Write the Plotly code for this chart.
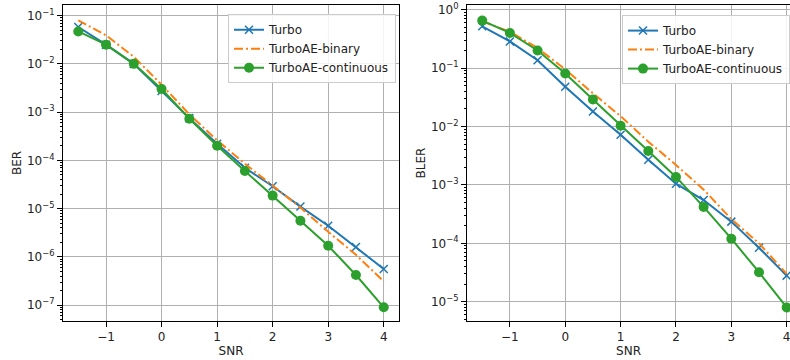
import plotly.graph_objects as go

snr = [-1.5, -1, -0.5, 0, 0.5, 1, 1.5, 2, 2.5, 3, 3.5, 4]

ber_turbo = [0.058, 0.025, 0.0100, 0.00275, 7.5e-4, 2.2e-4, 7.0e-5, 2.9e-5, 1.1e-5, 4.4e-6, 1.6e-6, 5.6e-7]
ber_binary = [0.080, 0.039, 0.0140, 0.0037, 9.0e-4, 2.6e-4, 8.5e-5, 3.0e-5, 1.05e-5, 3.3e-6, 1.1e-6, 3.1e-7]
ber_cont = [0.047, 0.025, 0.0100, 0.0030, 7.3e-4, 2.0e-4, 6.0e-5, 1.86e-5, 5.6e-6, 1.7e-6, 4.2e-7, 9.0e-8]

bler_turbo = [0.52, 0.286, 0.136, 0.048, 0.018, 0.0072, 0.0027, 0.00105, 5.5e-4, 2.35e-4, 8.4e-5, 2.8e-5]
bler_binary = [0.63, 0.42, 0.22, 0.095, 0.037, 0.015, 0.0055, 0.0022, 8.3e-4, 2.6e-4, 1.0e-4, 3.0e-5]
bler_cont = [0.65, 0.40, 0.20, 0.081, 0.029, 0.0103, 0.0038, 0.00137, 4.2e-4, 1.2e-4, 3.2e-5, 8.0e-6]

names = ["Turbo", "TurboAE-binary", "TurboAE-continuous"]
xticks = [-1, 0, 1, 2, 3, 4]
xticklabels = ["\u22121", "0", "1", "2", "3", "4"]
ber_exps = [-7, -6, -5, -4, -3, -2, -1]
bler_exps = [-5, -4, -3, -2, -1, 0]

BLUE, ORANGE, GREEN = "#1f77b4", "#ff7f0e", "#2ca02c"
FONT = "DejaVu Sans"

fig = go.Figure()

def add_set(y_t, y_b, y_c, xa, ya, leg):
    fig.add_trace(go.Scatter(x=snr, y=y_t, name=names[0], mode="lines+markers",
                             line=dict(color=BLUE, width=2),
                             marker=dict(symbol="x-thin", size=8, line=dict(color=BLUE, width=1.5)),
                             xaxis=xa, yaxis=ya, legend=leg, cliponaxis=False))
    fig.add_trace(go.Scatter(x=snr, y=y_b, name=names[1], mode="lines",
                             line=dict(color=ORANGE, width=2, dash="9px,3px,2px,3px"),
                             xaxis=xa, yaxis=ya, legend=leg))
    fig.add_trace(go.Scatter(x=snr, y=y_c, name=names[2], mode="lines+markers",
                             line=dict(color=GREEN, width=2),
                             marker=dict(symbol="circle", size=10, color=GREEN),
                             xaxis=xa, yaxis=ya, legend=leg, cliponaxis=False))

add_set(ber_turbo, ber_binary, ber_cont, "x", "y", "legend")
add_set(bler_turbo, bler_binary, bler_cont, "x2", "y2", "legend2")

def minor_vals(exps):
    vals = []
    for e in range(exps[0] - 1, exps[-1] + 1):
        for m in range(2, 10):
            vals.append(m * 10.0 ** e)
    return vals

def ylabels(exps):
    return ["10<sup>\u2212%d</sup>" % (-e) if e < 0 else "10<sup>0</sup>" for e in exps]

axis_common = dict(showline=True, linecolor="black", linewidth=1, ticks="outside",
                   ticklen=5, tickcolor="black", showgrid=True, gridcolor="#b0b0b0",
                   gridwidth=1, zeroline=False, automargin=False, ticklabeloverflow="allow",
                   tickfont=dict(family=FONT, size=12, color="#222"))

fig.update_layout(
    width=790, height=360,
    margin=dict(l=0, r=0, t=5, b=39),
    paper_bgcolor="white", plot_bgcolor="white",
    font=dict(family=FONT, size=12, color="#222"),
    xaxis=dict(domain=[63 / 790, 399 / 790], range=[-1.775, 4.275], tickvals=xticks,
               ticktext=xticklabels, mirror=True, anchor="y",
               title=dict(text="SNR", font=dict(size=12), standoff=2), **axis_common),
    yaxis=dict(domain=[0, 1], type="log", range=[-7.33, -0.78],
               tickvals=[10.0 ** e for e in ber_exps], ticktext=ylabels(ber_exps),
               mirror=True, anchor="x",
               minor=dict(tickvals=minor_vals(ber_exps), ticks="outside", ticklen=2.5,
                          tickcolor="black", showgrid=False),
               title=dict(text="BER", font=dict(size=12), standoff=2), **axis_common),
    xaxis2=dict(domain=[467 / 790, 1], range=[-1.775, 4.06], tickvals=xticks,
                ticktext=xticklabels, mirror=True, anchor="y2",
                title=dict(text="SNR", font=dict(size=12), standoff=2), **axis_common),
    yaxis2=dict(domain=[0, 1], type="log", range=[-5.33, 0.08],
                tickvals=[10.0 ** e for e in bler_exps], ticktext=ylabels(bler_exps),
                mirror=False, anchor="x2",
                minor=dict(tickvals=minor_vals(bler_exps), ticks="outside", ticklen=2.5,
                           tickcolor="black", showgrid=False),
                title=dict(text="BLER", font=dict(size=12), standoff=2), **axis_common),
    legend=dict(x=396 / 790, y=1 - 10.5 / 360, xanchor="right", yanchor="top",
                bgcolor="rgba(255,255,255,0.85)", bordercolor="#cccccc", borderwidth=1,
                font=dict(family=FONT, size=12, color="#222"), itemwidth=30),
    legend2=dict(x=1.0, y=1 - 11.5 / 360, xanchor="right", yanchor="top",
                 bgcolor="rgba(255,255,255,0.85)", bordercolor="#cccccc", borderwidth=1,
                 font=dict(family=FONT, size=12, color="#222"), itemwidth=30),
)

fig.write_html("out.html")
